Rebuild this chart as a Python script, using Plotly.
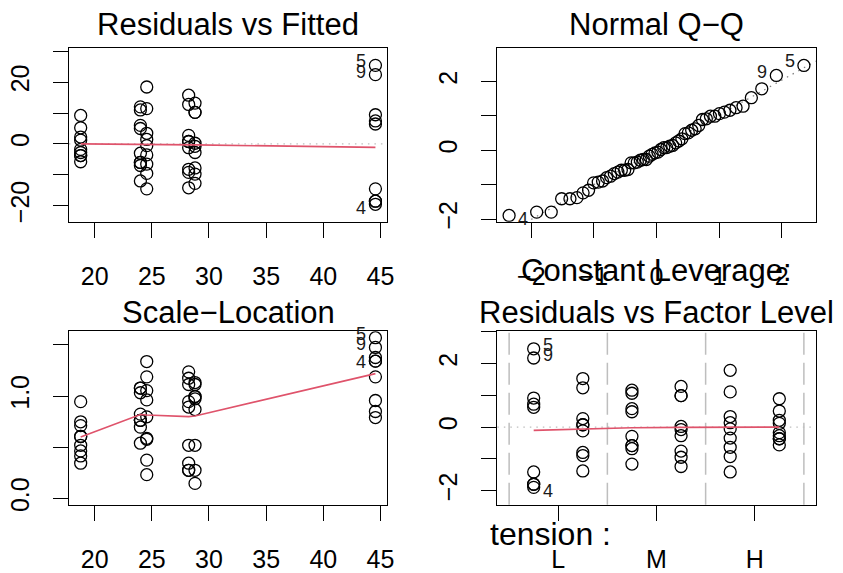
import numpy as np
import plotly.graph_objects as go
from statistics import NormalDist

# warpbreaks: breaks per loom for each wool x tension cell (observations 1..54)
breaks_A_L = [26, 30, 54, 25, 70, 52, 51, 26, 67]
breaks_A_M = [18, 21, 29, 17, 12, 18, 35, 30, 36]
breaks_A_H = [36, 21, 24, 18, 10, 43, 28, 15, 26]
breaks_B_L = [27, 14, 29, 19, 29, 31, 41, 20, 44]
breaks_B_M = [42, 26, 19, 16, 39, 28, 21, 39, 29]
breaks_B_H = [20, 21, 24, 17, 13, 15, 15, 16, 28]

tension_levels = ["L", "M", "H"]

# panel.smooth curves evaluated at the six distinct fitted values / factor columns
smooth_rvf = [0.0, -0.1, -0.2, -0.2, -0.3, -1.15]
smooth_sl = [0.60, 0.82, 0.815, 0.80, 0.805, 1.22]
smooth_fl = [-0.10, -0.06, -0.02, -0.01, 0.0, 0.0]

# ---- fit breaks ~ wool * tension (cell means) -----------------------------
cells = [breaks_A_L, breaks_A_M, breaks_A_H, breaks_B_L, breaks_B_M, breaks_B_H]
cell_col = [0, 2, 4, 1, 3, 5]          # column in the factor-level panel
y = np.concatenate([np.array(c, float) for c in cells])
fitted = np.concatenate([np.full(len(c), np.mean(c)) for c in cells])
fcol = np.concatenate([np.full(len(c), k) for c, k in zip(cells, cell_col)])
resid = y - fitted
n, p = len(y), len(cells)
sigma = np.sqrt(np.sum(resid ** 2) / (n - p))
hat = 1.0 / len(breaks_A_L)
rstd = resid / (sigma * np.sqrt(1 - hat))
sqrt_abs = np.sqrt(np.abs(rstd))
ids = np.arange(1, n + 1)
show = np.argsort(-np.abs(resid), kind="stable")[:3]

order = np.argsort(rstd, kind="stable")
theo = np.array([NormalDist().inv_cdf((i - 0.5) / n) for i in range(1, n + 1)])
qx = np.empty(n)
qx[order] = theo
yq = np.quantile(rstd, [0.25, 0.75])
xq = np.array([NormalDist().inv_cdf(0.25), NormalDist().inv_cdf(0.75)])
qq_slope = (yq[1] - yq[0]) / (xq[1] - xq[0])
qq_int = yq[0] - qq_slope * xq[0]

fit_levels = np.unique(fitted)

# ---- layout helpers -------------------------------------------------------
W, H = 843, 573
FONT = "Liberation Sans, Arial, Helvetica, sans-serif"
RED = "#DF536B"


def fx(px):
    return px / W


def fy(px):
    return 1 - px / H


cols = [(69.5, 390.5), (501.5, 822.5)]
rows = [(48.5, 225.0), (336.0, 512.0)]

axis_common = dict(
    showline=True, linecolor="black", linewidth=1.3, mirror=True,
    ticks="outside", ticklen=15, tickwidth=1.3, tickcolor="black",
    showgrid=False, zeroline=False,
    tickfont=dict(size=25, color="black", family=FONT),
)

fig = go.Figure()

marker = dict(symbol="circle-open", size=12, color="black",
              line=dict(width=1.3, color="black"))

# panel 1: residuals vs fitted
fig.add_trace(go.Scatter(x=fitted, y=resid, mode="markers", marker=marker,
                         xaxis="x", yaxis="y", showlegend=False))
fig.add_trace(go.Scatter(x=fit_levels, y=smooth_rvf, mode="lines",
                         line=dict(color=RED, width=1.7),
                         xaxis="x", yaxis="y", showlegend=False))

# panel 2: normal Q-Q
qline_x = np.array([-3.0, 3.0])
fig.add_trace(go.Scatter(x=qline_x, y=qq_int + qq_slope * qline_x, mode="lines",
                         line=dict(color="#7F7F7F", width=1.2, dash="1.5px,5px"),
                         xaxis="x2", yaxis="y2", showlegend=False))
fig.add_trace(go.Scatter(x=qx, y=rstd, mode="markers", marker=marker,
                         xaxis="x2", yaxis="y2", showlegend=False))

# panel 3: scale-location
fig.add_trace(go.Scatter(x=fitted, y=sqrt_abs, mode="markers", marker=marker,
                         xaxis="x3", yaxis="y3", showlegend=False))
fig.add_trace(go.Scatter(x=fit_levels, y=smooth_sl, mode="lines",
                         line=dict(color=RED, width=1.7),
                         xaxis="x3", yaxis="y3", showlegend=False))

# panel 4: residuals vs factor levels
fig.add_trace(go.Scatter(x=fcol, y=rstd, mode="markers", marker=marker,
                         xaxis="x4", yaxis="y4", showlegend=False))
fig.add_trace(go.Scatter(x=np.arange(6), y=smooth_fl, mode="lines",
                         line=dict(color=RED, width=1.7),
                         xaxis="x4", yaxis="y4", showlegend=False))

shapes = []
for xr, yr in (("x domain", "y"), ("x4 domain", "y4")):
    shapes.append(dict(type="line", xref=xr, yref=yr, x0=0, x1=1, y0=0, y1=0,
                       line=dict(color="#BEBEBE", width=1.3, dash="1.5px,5px"),
                       layer="below"))
for v in (-0.5, 1.5, 3.5, 5.5):
    shapes.append(dict(type="line", xref="x4", yref="y4 domain", x0=v, x1=v,
                       y0=0, y1=1, layer="below",
                       line=dict(color="#BEBEBE", width=1.5, dash="22px,8px")))

# ---- axes -----------------------------------------------------------------
minus = "\u2212"
layout_axes = {}
specs = [
    # (suffix, col, row, xcfg, ycfg)
    ("", 0, 0,
     dict(range=[17.75, 45.59], tickvals=[20, 25, 30, 35, 40, 45]),
     dict(range=[-25.25, 31.13], tickvals=[-20, -10, 0, 10, 20, 30],
          ticktext=[minus + "20", "", "0", "", "20", ""])),
    ("2", 1, 0,
     dict(range=[-2.543, 2.543], tickvals=[-2, -1, 0, 1, 2],
          ticktext=[minus + "2", minus + "1", "0", "1", "2"]),
     dict(range=[-2.083, 2.98], tickvals=[-2, -1, 0, 1, 2],
          ticktext=[minus + "2", "", "0", "", "2"])),
    ("3", 0, 1,
     dict(range=[17.75, 45.59], tickvals=[20, 25, 30, 35, 40, 45]),
     dict(range=[-0.063, 1.633], tickvals=[0, 0.5, 1.0, 1.5],
          ticktext=["0.0", "", "1.0", ""])),
    ("4", 1, 1,
     dict(range=[-0.74, 5.74], tickvals=[0.5, 2.5, 4.5], ticktext=tension_levels),
     dict(range=[-2.447, 3.017], tickvals=[-2, -1, 0, 1, 2, 3],
          ticktext=[minus + "2", "", "0", "", "2", ""])),
]
for suf, c, r, xcfg, ycfg in specs:
    x0, x1 = cols[c]
    y0, y1 = rows[r]
    layout_axes["xaxis" + suf] = dict(
        axis_common, domain=[fx(x0), fx(x1)], anchor="y" + suf,
        tickmode="array", ticklabelstandoff=17, **xcfg)
    layout_axes["yaxis" + suf] = dict(
        axis_common, domain=[fy(y1), fy(y0)], anchor="x" + suf,
        tickmode="array", tickangle=-90, ticklabelstandoff=14, **ycfg)

# ---- titles and id labels -------------------------------------------------
ann = []


def title(text, cx, cy, size=31):
    ann.append(dict(text=text, x=fx(cx), y=fy(cy), xref="paper", yref="paper",
                    xanchor="center", yanchor="middle", showarrow=False,
                    font=dict(size=size, color="black", family=FONT)))


left_c = (cols[0][0] + cols[0][1]) / 2
right_c = (cols[1][0] + cols[1][1]) / 2
title("Residuals vs Fitted", left_c, 25)
title("Normal Q\u2212Q", right_c, 25)
title("Scale\u2212Location", left_c, 317)
title("Constant Leverage:", right_c, 274)
title("Residuals vs Factor Level", right_c, 317)
ann.append(dict(text="tension :", x=fx(492), y=fy(542), xref="paper", yref="paper",
                xanchor="left", yanchor="middle", showarrow=False,
                font=dict(size=32, color="black", family=FONT)))

# vertical nudges of the id labels (px)
label_dy = {5: 4, 9: 3, 4: -4}


def id_label(xv, yv, i, xr, yr, side):
    ann.append(dict(text=str(i), x=xv, y=yv, xref=xr, yref=yr,
                    xanchor="right" if side == "left" else "left",
                    xshift=-7 if side == "left" else 7,
                    yshift=label_dy.get(int(i), 0), yanchor="middle",
                    showarrow=False,
                    font=dict(size=18, color="#1a1a1a", family=FONT)))


for k in show:
    i = ids[k]
    id_label(fitted[k], resid[k], i, "x", "y", "left")
    id_label(qx[k], rstd[k], i, "x2", "y2", "left" if qx[k] > 0 else "right")
    id_label(fitted[k], sqrt_abs[k], i, "x3", "y3", "left")
    id_label(fcol[k], rstd[k], i, "x4", "y4", "right")

fig.update_layout(
    width=W, height=H, autosize=False,
    margin=dict(l=0, r=0, t=0, b=0),
    paper_bgcolor="white", plot_bgcolor="white",
    font=dict(family=FONT, color="black"),
    showlegend=False,
    shapes=shapes, annotations=ann,
    **layout_axes,
)

fig.write_html("out.html")
